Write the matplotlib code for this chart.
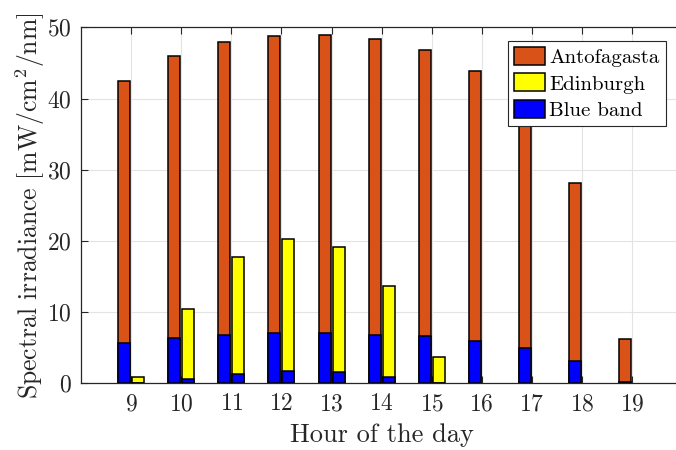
import matplotlib
matplotlib.use("Agg")
import matplotlib.pyplot as plt
import numpy as np

# data
hours = [9, 10, 11, 12, 13, 14, 15, 16, 17, 18, 19]
antofagasta = [42.5, 46.0, 47.9, 48.8, 48.9, 48.3, 46.8, 43.9, 37.5, 28.1, 6.2]
edinburgh = [0.9, 10.5, 17.7, 20.3, 19.1, 13.6, 3.7, 0, 0, 0, 0]
blue_antofagasta = [5.7, 6.4, 6.8, 7.1, 7.1, 6.8, 6.6, 6.0, 5.0, 3.1, 0.25]
blue_edinburgh = [0.1, 0.55, 1.35, 1.75, 1.6, 0.85, 0.05, 0, 0, 0, 0]

plt.rcParams['font.family'] = 'cmr10'
plt.rcParams['mathtext.fontset'] = 'cm'
plt.rcParams['axes.formatter.use_mathtext'] = True

fig = plt.figure(figsize=(6.76, 4.5), dpi=100)
ax = fig.add_axes([0.1201, 0.1482, 0.8888, 0.7911])

x = np.array(hours)
w = 0.24
off = 0.14
ec = dict(edgecolor='black', linewidth=1.1, zorder=3)

# skip empty bars (MATLAB shows nothing there)
e = np.array(edinburgh)
be = np.array(blue_edinburgh)

ax.bar(x - off, antofagasta, w, color='#D95319', label='Antofagasta', **ec)
ax.bar(x[e > 0] + off, e[e > 0], w, color='#FFFF00', label='Edinburgh', **ec)
ax.bar(x - off, blue_antofagasta, w, color='#0000FF', label='Blue band', **ec)
ax.bar(x[be > 0] + off, be[be > 0], w, color='#0000FF', **ec)

ax.set_xlim(8, 20)
ax.set_ylim(0, 50)
ax.set_xticks(hours)
ax.set_yticks([0, 10, 20, 30, 40, 50])
ax.grid(True, color='#e3e3e3', linewidth=0.8, zorder=0)
ax.set_axisbelow(True)
ax.tick_params(direction='in', length=5, width=0.8, labelsize=17,
               top=True, right=False, colors='#262626', pad=7)
for s in ['left', 'bottom', 'top']:
    ax.spines[s].set_color('#262626')
    ax.spines[s].set_linewidth(0.9)
ax.spines['right'].set_visible(False)

ax.set_xlabel('Hour of the day', fontsize=19, color='#262626', labelpad=6)
ax.set_ylabel(r'Spectral irradiance [mW/cm$^2$/nm]', fontsize=18.5, color='#262626', labelpad=0)

leg = ax.legend(loc='upper right', bbox_to_anchor=(0.973, 0.962), borderaxespad=0,
                fontsize=15, fancybox=False, framealpha=1, edgecolor='#262626',
                handlelength=1.5, handleheight=0.95, handletextpad=0.2,
                labelspacing=0.3, borderpad=0.3)
leg.get_frame().set_linewidth(0.8)

fig.savefig('out.png', dpi=100)
